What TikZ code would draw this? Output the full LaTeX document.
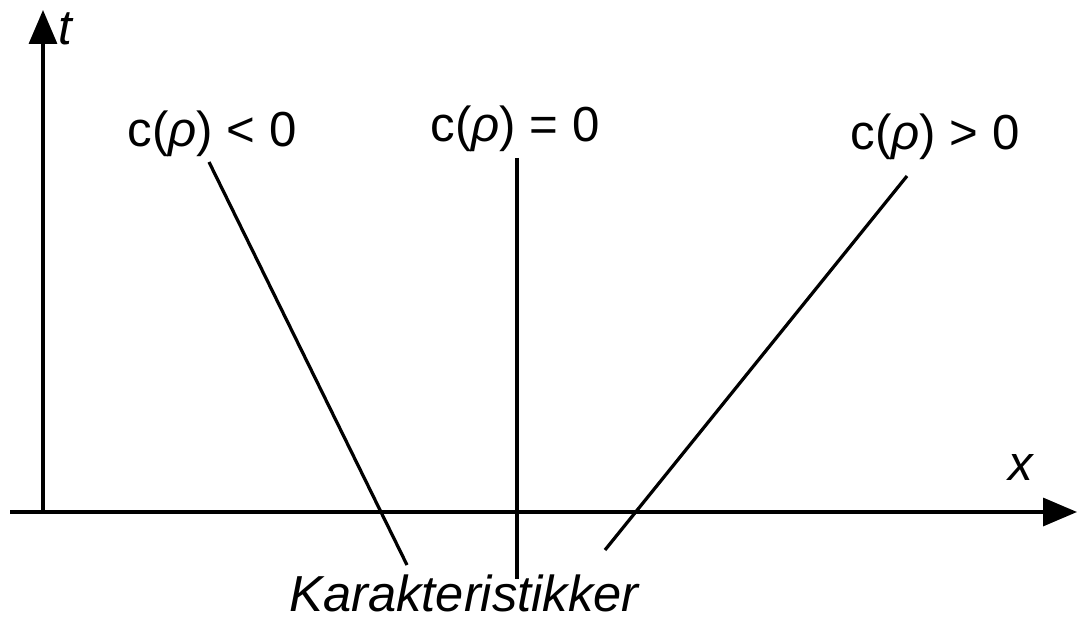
\documentclass[tikz,border=0pt]{standalone}
\usepackage{fontspec}
\setmainfont{Liberation Sans}
\usepackage{tikz}
\usetikzlibrary{arrows.meta,positioning}

\begin{document}
\begin{tikzpicture}[
    axisline/.style={line width=2.4pt, -{Triangle[length=0.85cm,width=0.7cm]}},
    charline/.style={line width=2.3pt},
    lbl/.style={font=\fontsize{35}{37}\selectfont, inner sep=0pt, anchor=base}]
  \useasboundingbox (0,0) rectangle (26.95,15.575);
  % Axes
  \coordinate (xstart) at (0.25,2.775);
  \coordinate (xend) at (26.925,2.775);
  \coordinate (origin) at (1.075,2.775);
  \coordinate (tend) at (1.075,15.325);
  \draw[axisline] (xstart) -- (xend);
  \draw[axisline] (origin) -- (tend);
  \node[lbl, anchor=base west] (tlab) at (1.45,14.45) {\itshape t};
  \node[lbl] (xlab) at (25.525,3.575) {\itshape x};
  % Speed labels
  \node[lbl] (neg) at (5.3,11.9) {c(\textit{ρ}) < 0};
  \node[lbl] (zero) at (12.875,12.025) {c(\textit{ρ}) = 0};
  \node[lbl] (pos) at (23.375,11.825) {c(\textit{ρ}) > 0};
  % Characteristics
  \coordinate (negtop) at (5.225,11.525);
  \coordinate (negbot) at (10.175,1.45);
  \coordinate (zerotop) at (12.925,11.625);
  \coordinate (zerobot) at (12.925,1.1);
  \coordinate (postop) at (22.675,11.175);
  \coordinate (posbot) at (15.125,1.825);
  \draw[charline] (negtop) -- (negbot);
  \draw[charline] (zerotop) -- (zerobot);
  \draw[charline] (postop) -- (posbot);
  % Caption
  \node[lbl, font=\fontsize{36}{38}\selectfont] (kar) at (11.6,0.3) {\itshape Karakteristikker};
\end{tikzpicture}
\end{document}
